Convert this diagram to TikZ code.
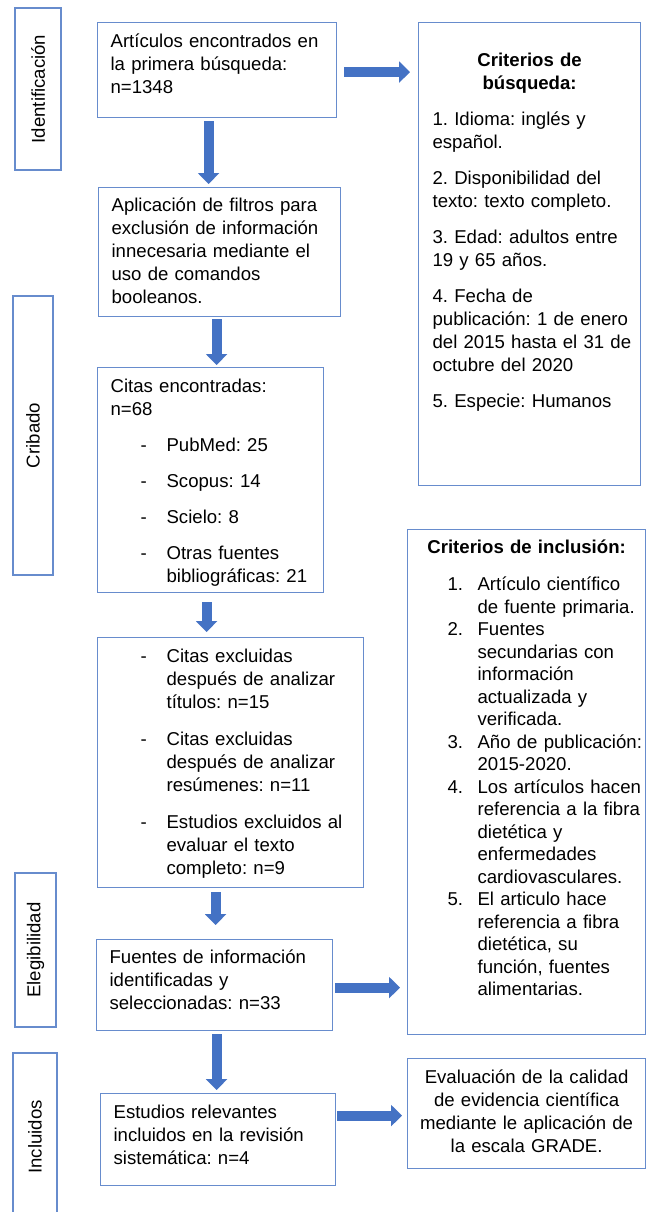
\documentclass[tikz,border=0pt]{standalone}
\usepackage{fontspec}
\setmainfont{Liberation Sans}
\usepackage{tikz}
\usetikzlibrary{arrows.meta,positioning}
\definecolor{marcoazul}{RGB}{103,140,205}
\definecolor{flechaazul}{RGB}{68,114,196}
\frenchspacing
\hyphenpenalty=10000
\exhyphenpenalty=10000
\newcommand{\guion}[1]{{\leftskip=56pt\noindent\llap{\makebox[26pt][l]{-}}#1\par}}
\newcommand{\numero}[2]{{\leftskip=69pt\noindent\llap{\makebox[30pt][l]{#1}}#2\par}}

\begin{document}
\begin{tikzpicture}[x=1pt,y=-1pt,
    caja/.style={draw=marcoazul, line width=1.2pt, anchor=north west, align=left,
      inner xsep=13pt, inner ysep=0pt, font=\fontsize{18.6pt}{23pt}\selectfont},
    lado/.style={draw=marcoazul, line width=1.2pt, rotate=90, inner sep=0pt,
      font=\fontsize{18.6pt}{23pt}\selectfont},
    flecha/.style={draw=flechaazul, line width=10pt, -{Triangle[length=11pt,width=21pt]}}]
  \useasboundingbox (0,0) rectangle (646,1212);

  % etapas
  \node[lado, minimum width=162pt, minimum height=46pt] (ident) at (38,89) {Identificación};
  \node[lado, minimum width=279pt, minimum height=40pt] (crib) at (33,435.5) {Cribado};
  \node[lado, minimum width=154pt, minimum height=41pt] (eleg) at (35.5,950) {Elegibilidad};
  \node[lado, minimum width=168pt, minimum height=44pt] (inclu) at (35,1137) {Incluidos};

  % columna central
  \node[caja, text width=213pt, text height=25pt, text depth=70pt] (art) at (97,22)
    {Artículos encontrados en\\ la primera búsqueda:\\ n=1348};
  \node[caja, text width=216pt, text height=23.5pt, text depth=105.5pt] (filt) at (98,187)
    {Aplicación de filtros para\\ exclusión de información\\ innecesaria mediante el\\ uso de comandos\\ booleanos.};
  \node[caja, text width=200pt, text height=25pt, text depth=200pt] (citas) at (97,367)
    {Citas encontradas:\\ n=68\par\vspace{13pt}
     \guion{PubMed: 25}\vspace{13pt}
     \guion{Scopus: 14}\vspace{13pt}
     \guion{Scielo: 8}\vspace{13pt}
     \guion{Otras fuentes\\ bibliográficas: 21}};
  \node[caja, text width=240pt, text height=25pt, text depth=225pt] (excl) at (97,637)
    {\guion{Citas excluidas\\ después de analizar\\ títulos: n=15}\vspace{14pt}
     \guion{Citas excluidas\\ después de analizar\\ resúmenes: n=11}\vspace{14pt}
     \guion{Estudios excluidos al\\ evaluar el texto\\ completo: n=9}};
  \node[caja, text width=210pt, text height=24pt, text depth=67pt] (fuentes) at (96,939)
    {Fuentes de información\\ identificadas y\\ seleccionadas: n=33};
  \node[caja, text width=209pt, text height=25pt, text depth=67pt] (estud) at (100,1093)
    {Estudios relevantes\\ incluidos en la revisión\\ sistemática: n=4};

  % columna derecha
  \node[caja, inner xsep=4pt, text width=214pt, text height=44pt, text depth=419pt] (busq) at (418,22)
    {{\centering\bfseries Criterios de\\ búsqueda:\par}\vspace{13pt}
     \leftskip=10pt
     1. Idioma: inglés y\\ español.\par\vspace{13pt}
     2. Disponibilidad del\\ texto: texto completo.\par\vspace{13pt}
     3. Edad: adultos entre\\ 19 y 65 años.\par\vspace{13pt}
     4. Fecha de\\ publicación: 1 de enero\\ del 2015 hasta el 31 de\\ octubre del 2020\par\vspace{13pt}
     5. Especie: Humanos\par};
  \node[caja, inner xsep=1pt, text width=236pt, text height=24pt, text depth=481pt,
    font=\fontsize{18.6pt}{22.5pt}\selectfont] (inclus) at (407,529)
    {{\centering\bfseries Criterios de inclusión:\par}\vspace{14.5pt}
     \numero{1.}{Artículo científico\\ de fuente primaria.}
     \numero{2.}{Fuentes\\ secundarias con\\ información\\ actualizada y\\ verificada.}
     \numero{3.}{\mbox{Año de publicación:}\\ 2015-2020.}
     \numero{4.}{Los artículos hacen\\ referencia a la fibra\\ dietética y\\ enfermedades\\ cardiovasculares.}
     \numero{5.}{El articulo hace\\ referencia a fibra\\ dietética, su\\ función, fuentes\\ alimentarias.}};
  \node[caja, align=center, inner xsep=4pt, text width=230pt, text height=25pt, text depth=85pt] (eval) at (407,1058)
    {Evaluación de la calidad\\ de evidencia científica\\ mediante le aplicación de\\ la escala GRADE.};

  % flechas
  \draw[flecha, shorten <=3pt, shorten >=3pt] ([xshift=-8.5pt]art.south) -- ([xshift=-8.5pt]art.south |- filt.north);
  \draw[flecha, shorten <=2pt, shorten >=2pt] ([xshift=-3pt]filt.south) -- ([xshift=-3pt]filt.south |- citas.north);
  \draw[flecha, shorten <=9pt, shorten >=5pt] ([xshift=-4pt]citas.south) -- ([xshift=-4pt]citas.south |- excl.north);
  \draw[flecha, shorten <=4pt, shorten >=14pt] ([xshift=-15pt]excl.south) -- ([xshift=-15pt]excl.south |- fuentes.north);
  \draw[flecha, shorten <=3pt, shorten >=3pt] ([xshift=2pt]fuentes.south) -- ([xshift=2pt]fuentes.south |- estud.north);
  \draw[flecha, shorten <=7pt, shorten >=8pt] ([yshift=-2pt]art.east) -- ([yshift=-2pt]art.east -| busq.west);
  \draw[flecha, shorten <=2pt, shorten >=7pt] ([yshift=-2.5pt]fuentes.east) -- ([yshift=-2.5pt]fuentes.east -| inclus.west);
  \draw[flecha, shorten <=1pt, shorten >=5pt] ([yshift=24pt]estud.east) -- ([yshift=24pt]estud.east -| eval.west);
\end{tikzpicture}
\end{document}
